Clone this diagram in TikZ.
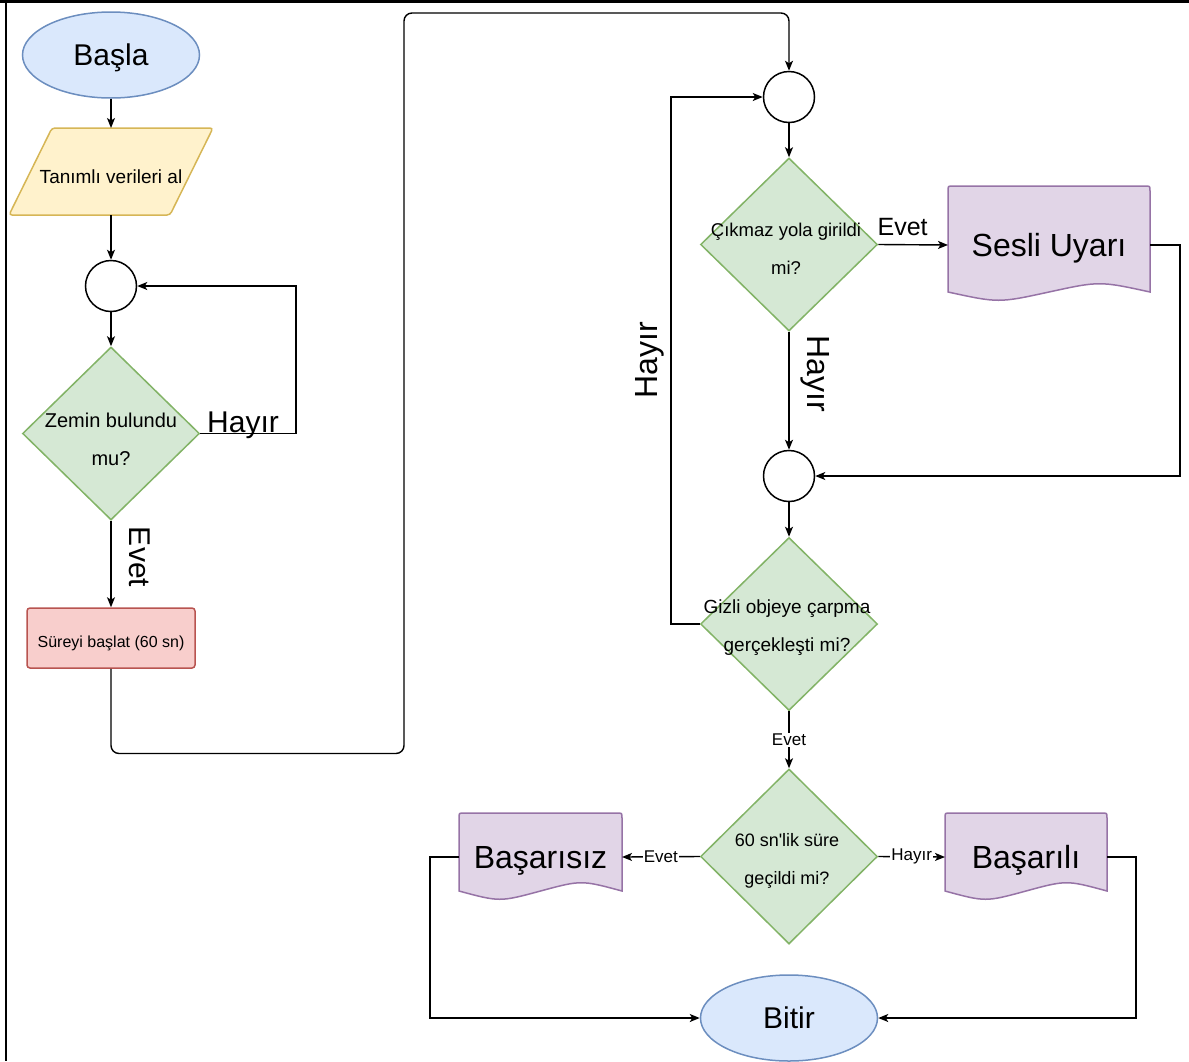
\documentclass[tikz,border=0pt]{standalone}
\usepackage{fontspec}
\setmainfont{Liberation Sans}
\usetikzlibrary{shapes.geometric,arrows.meta}
\definecolor{blueF}{HTML}{DAE8FC}
\definecolor{blueS}{HTML}{6C8EBF}
\definecolor{yelF}{HTML}{FFF2CC}
\definecolor{yelS}{HTML}{D6B656}
\definecolor{grnF}{HTML}{D5E8D4}
\definecolor{grnS}{HTML}{82B366}
\definecolor{redF}{HTML}{F8CECC}
\definecolor{redS}{HTML}{B85450}
\definecolor{purF}{HTML}{E1D5E7}
\definecolor{purS}{HTML}{9673A6}
\newcommand\mydoc[4]{%
  \filldraw[docst] (#1,#4) -- (#1,{#3+5}) .. controls (#1,#3) .. ({#1+5},#3) -- ({#2-5},#3) .. controls (#2,#3) .. (#2,{#3+5}) -- (#2,#4) .. controls ({0.25*#1+0.75*#2},{#4-11}) .. ({0.5*#1+0.5*#2},#4) .. controls ({0.75*#1+0.25*#2},{#4+11}) .. (#1,#4) -- cycle;}
\tikzset{
  ln/.style={draw=black, line width=1.4pt},
  arr/.style={ln, -{Stealth[length=10pt,width=8pt,inset=2.5pt]}},
  term/.style={ellipse, draw=blueS, fill=blueF, line width=1.5pt, inner sep=0pt, minimum width=177pt, minimum height=86pt, text depth=0pt, font=\fontsize{30}{36}\selectfont},
  junc/.style={circle, draw=black, fill=white, line width=1.5pt, minimum size=51pt, inner sep=0pt},
  dec/.style={diamond, draw=grnS, fill=grnF, line width=1.5pt, minimum width=177pt, minimum height=173pt, inner sep=0pt},
  dtxt/.style={align=center, inner sep=0pt, font=\fontsize{18.5}{38}\selectfont},
  docst/.style={draw=purS, fill=purF, line width=1.5pt},
  hid/.style={inner sep=0pt, outer sep=0pt},
  big/.style={font=\fontsize{32}{38}\selectfont},
  lab/.style={font=\fontsize{17}{20}\selectfont, fill=white, inner sep=1pt},
}
\begin{document}
\begin{tikzpicture}[x=1pt,y=-1pt]
\useasboundingbox (0,0) rectangle (1189,1061);
% frame
\fill[black] (0,0) rectangle (1189,2.5);
\fill[black] (4.5,0) rectangle (7,1061);

% left column
\node[term] (basla) at (111,55) {Başla};
\filldraw[draw=yelS, fill=yelF, line width=1.5pt, rounded corners=3pt] (52,128) -- (213,128) -- (170,215) -- (9,215) -- cycle;
\node[hid, minimum width=160pt, minimum height=87pt, label={[font=\fontsize{19}{23}\selectfont, yshift=-5pt]center:Tanımlı verileri al}] (veri) at (111,171.5) {};
\node[junc] (c1) at (111,286) {};
\node[dec] (d1) at (111,433.5) {};
\node[dtxt, font=\fontsize{20}{38}\selectfont] (d1t) at (111,439) {Zemin bulundu\\mu?};
\node[draw=redS, fill=redF, line width=1.5pt, rounded corners=3pt, minimum width=168pt, minimum height=60pt, inner sep=0pt, label={[font=\fontsize{16}{19}\selectfont, yshift=-5pt]center:Süreyi başlat (60 sn)}] (timer) at (111,638) {};

% right column
\node[junc] (c2) at (789,97) {};
\node[dec] (d2) at (789,244.5) {};
\node[dtxt] (d2t) at (786,249) {Çıkmaz yola girildi\\mi?};
\mydoc{948}{1150}{186}{292}
\node[hid, minimum width=202pt, minimum height=118pt, text depth=0pt, big] (su) at (1049,245) {Sesli Uyarı};
\node[junc] (c3) at (789,476) {};
\node[dec] (d3) at (789,624) {};
\node[dtxt, font=\fontsize{19}{38}\selectfont] (d3t) at (787,628) {Gizli objeye çarpma\\gerçekleşti mi?};
\node[dec, minimum height=175pt] (d4) at (789,856.5) {};
\node[dtxt, font=\fontsize{18}{38}\selectfont] (d4t) at (787,861) {60 sn\textquotesingle lik süre\\geçildi mi?};
\mydoc{459}{622}{813}{891}
\node[hid, minimum width=163pt, minimum height=88pt, text depth=0pt, big] (bas) at (540.5,857) {Başarısız};
\mydoc{945}{1107}{813}{891}
\node[hid, minimum width=162pt, minimum height=88pt, text depth=0pt, big] (bsl) at (1026,857) {Başarılı};
\node[term] (bitir) at (789,1018) {Bitir};

% connectors
\draw[arr] (basla) -- (veri);
\draw[arr] (veri) -- (c1);
\draw[arr] (c1) -- (d1);
\draw[arr] (d1.east) -- (296,433.5) |- (c1.east);
\node[anchor=base west, font=\fontsize{30}{36}\selectfont, inner sep=0pt] (h1) at (207,432) {Hayır};
\draw[arr] (d1) -- (timer);
\node[rotate=-90, font=\fontsize{30}{36}\selectfont] (e1) at (140,557) {Evet};
\draw[arr, rounded corners=8pt] (timer.south) -- (111,753.5) -- (404,753.5) -- (404,13) -- (789,13) -- (c2.north);

\draw[arr] (c2) -- (d2);
\draw[arr] (d2.east) -- node[pos=0.35, above, yshift=5pt, font=\fontsize{25}{30}\selectfont] (e2) {Evet} (su.west);
\draw[arr] (su.east) -- (1180,245) |- (c3.east);
\draw[arr] (d2) -- (c3);
\node[rotate=-90, big] (h2) at (815,374) {Hayır};
\draw[arr] (c3) -- (d3);
\draw[arr] (d3.west) -- (671,624) |- (c2.west);
\node[rotate=90, big] (h3) at (650,360) {Hayır};
\draw[arr] (d3) -- node[lab] (e3) {Evet} (d4);
\draw[arr] (d4.west) -- node[lab] (e4) {Evet} (bas.east);
\draw[arr] (d4.east) -- node[lab] (h4) {Hayır} (bsl.west);
\draw[arr] (bas.west) -- (430,857) |- (bitir.west);
\draw[arr] (bsl.east) -- (1136,857) |- (bitir.east);
\end{tikzpicture}
\end{document}
